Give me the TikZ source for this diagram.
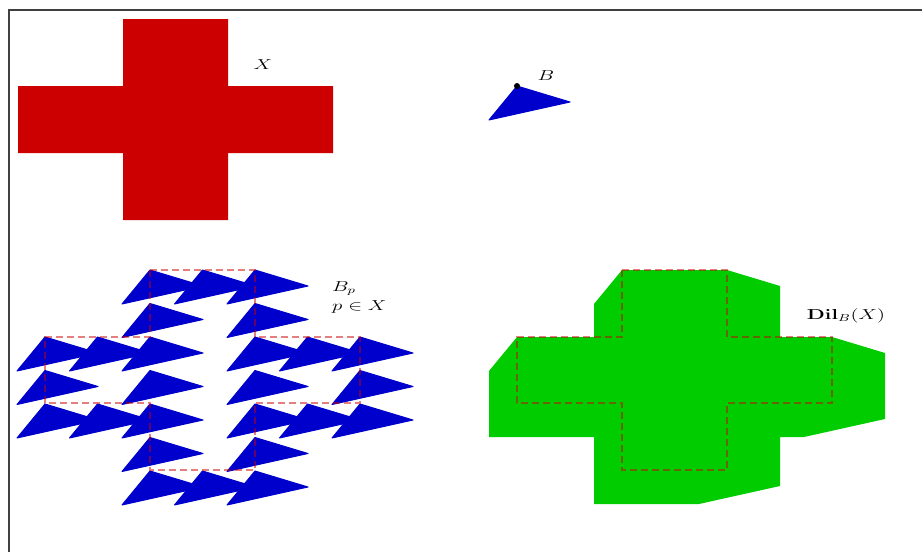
\documentclass[tikz,border=0pt]{standalone}
\usepackage{amsmath,amssymb}
\usepackage{tikz}
\usetikzlibrary{positioning}
\definecolor{crossred}{RGB}{204,0,0}
\definecolor{elemblue}{RGB}{0,0,204}
\definecolor{dilgreen}{RGB}{0,204,0}
\newcommand{\widetext}[1]{\scalebox{1.45}[1]{#1}}

\begin{document}
\begin{tikzpicture}[x=1pt,y=-1pt,
  tri/.style={fill=elemblue,draw=elemblue,line width=1pt,line join=round},
  outline/.style={draw=crossred,draw opacity=0.5,line width=1.3pt,dash pattern=on 7pt off 4pt},
  lbl/.style={font=\fontsize{14}{16}\selectfont,inner sep=0pt}]
\useasboundingbox (0,0) rectangle (922,552);
\draw[line width=1.5pt,black!75] (9,552) -- (9,10) -- (922,10);
% the set X
\fill[crossred] (123,19) -- (228,19) -- (228,86) -- (333,86) -- (333,153) -- (228,153) -- (228,220)
  -- (123,220) -- (123,153) -- (18,153) -- (18,86) -- (123,86) -- cycle;
\node[lbl] (xlab) at (263,65) {\widetext{$X$}};
% structuring element B with its origin
\filldraw[tri] (517,86) -- ++(53,16) -- ++(-81,18) -- cycle;
\fill (517,86) circle (3pt);
\node[lbl] (blab) at (546,76) {\widetext{$B$}};
% translates B_p for p in X
\foreach \i/\j in {2/0,3/0,4/0, 2/1,4/1, 0/2,1/2,2/2,4/2,5/2,6/2, 0/3,2/3,4/3,6/3,
                   0/4,1/4,2/4,4/4,5/4,6/4, 2/5,4/5, 2/6,3/6,4/6}
  \filldraw[tri] ({45+52.5*\i},{270+33.5*\j}) -- ++(53,16) -- ++(-81,18) -- cycle;
\draw[outline] (150,270) -- (255,270) -- (255,337) -- (360,337) -- (360,403) -- (255,403) -- (255,470)
  -- (150,470) -- (150,403) -- (45,403) -- (45,337) -- (150,337) -- cycle;
\node[lbl,anchor=west,align=left] (bplab) at (332,297) {\widetext{$B_p$}\\[3pt]\widetext{$p\in X$}};
% the dilation
\fill[dilgreen] (622,270) -- (727,270) -- (780,286) -- (780,337) -- (832,337) -- (885,353) -- (885,419)
  -- (804,437) -- (780,437) -- (780,486) -- (699,504) -- (594,504) -- (594,437) -- (489,437)
  -- (489,371) -- (517,337) -- (594,337) -- (594,304) -- cycle;
\draw[outline] (622,270) -- (727,270) -- (727,337) -- (832,337) -- (832,403) -- (727,403) -- (727,470)
  -- (622,470) -- (622,403) -- (517,403) -- (517,337) -- (622,337) -- cycle;
\node[lbl] (dillab) at (846,316) {\widetext{$\mathbf{Dil}_B(X)$}};
\end{tikzpicture}
\end{document}
